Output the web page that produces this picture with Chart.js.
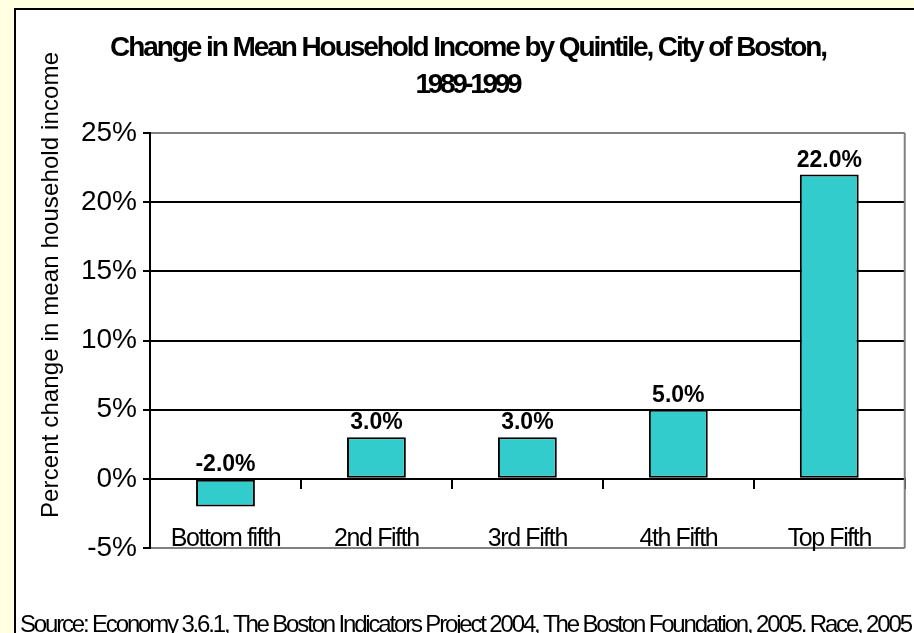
<!DOCTYPE html>
<html><head><meta charset="utf-8">
<script src="https://cdn.jsdelivr.net/npm/chart.js@4.4.1/dist/chart.umd.min.js"></script>
<style>html,body{margin:0;padding:0;background:#FFFFE1;} canvas{display:block;}</style>
</head><body>
<canvas id="c" width="914" height="633"></canvas>
<script>
// ---- data ----
const categories = ['Bottom fifth', '2nd Fifth', '3rd Fifth', '4th Fifth', 'Top Fifth'];
const changePct = [-2.0, 3.0, 3.0, 5.0, 22.0];
const yTicks = [-5, 0, 5, 10, 15, 20, 25];
const titleLines = ['Change in Mean Household Income by Quintile, City of Boston,', '1989-1999'];
const yAxisTitle = 'Percent change in mean household income';
const sourceText = 'Source: Economy 3.6.1, The Boston Indicators Project 2004, The Boston Foundation, 2005. Race, 2005';

const FONT = "'Liberation Sans', Arial, sans-serif";

// draw text squeezed/stretched to a given visible width, starting at x0
function fitText(ctx, text, x0, y, font, width) {
  ctx.save();
  ctx.font = font;
  ctx.letterSpacing = '0px';
  const w = ctx.measureText(text).width;
  const ls = (width - w) / (text.length - 1);
  ctx.letterSpacing = ls + 'px';
  ctx.textAlign = 'left';
  ctx.textBaseline = 'alphabetic';
  ctx.fillText(text, x0, y);
  ctx.restore();
}

const decorPlugin = {
  id: 'decor',
  beforeDraw(chart) {
    const ctx = chart.ctx;
    ctx.letterSpacing = '0px';
    ctx.save();
    ctx.fillStyle = '#FFFFE1';
    ctx.fillRect(0, 0, chart.width, chart.height);
    ctx.fillStyle = '#FFFFFF';
    ctx.fillRect(15, 9, 2000, 2000);
    ctx.strokeStyle = '#000000';
    ctx.lineWidth = 2;
    ctx.strokeRect(15, 9, 2000, 2000);
    ctx.restore();
    const xs = chart.scales.x;
    if (xs && !xs._lsWrapped) {
      const orig = xs.drawLabels;
      xs.drawLabels = function (area) {
        const c = this.ctx;
        c.save();
        c.letterSpacing = '-1.4px';
        orig.call(this, area);
        c.restore();
      };
      xs._lsWrapped = true;
    }
  },
  afterDatasetsDraw(chart) {
    const ctx = chart.ctx;
    const a = chart.chartArea;
    ctx.save();
    ctx.strokeStyle = '#808080';
    ctx.lineWidth = 2;
    ctx.beginPath();
    ctx.moveTo(a.right, a.top);
    ctx.lineTo(a.right, a.bottom);
    ctx.stroke();
    // value labels
    const meta = chart.getDatasetMeta(0);
    const ys = chart.scales.y;
    const zero = ys.getPixelForValue(0);
    ctx.font = 'bold 23px ' + FONT;
    ctx.fillStyle = '#000';
    ctx.textAlign = 'center';
    ctx.textBaseline = 'alphabetic';
    meta.data.forEach((bar, i) => {
      const v = changePct[i];
      const top = Math.min(ys.getPixelForValue(v), zero);
      ctx.fillText(v.toFixed(1) + '%', bar.x, top - 8);
    });
    ctx.restore();
  },
  afterDraw(chart) {
    const ctx = chart.ctx;
    ctx.save();
    ctx.fillStyle = '#000';
    fitText(ctx, titleLines[0], 469 - 359, 56, 'bold 28px ' + FONT, 718);
    fitText(ctx, titleLines[1], 469 - 53.5, 93, 'bold 28px ' + FONT, 107);
    fitText(ctx, sourceText, 20, 632, '24px ' + FONT, 893);
    ctx.save();
    ctx.translate(58, 285);
    ctx.rotate(-Math.PI / 2);
    fitText(ctx, yAxisTitle, -233, 0, '24px ' + FONT, 466);
    ctx.restore();
    ctx.restore();
  }
};

new Chart(document.getElementById('c'), {
  type: 'bar',
  data: {
    labels: categories,
    datasets: [{
      data: changePct,
      backgroundColor: '#33CCCC',
      borderColor: '#000000',
      borderWidth: 2,
      borderSkipped: false,
      barPercentage: 0.39,
      categoryPercentage: 1.0
    }]
  },
  options: {
    responsive: false,
    animation: false,
    devicePixelRatio: 1,
    layout: { padding: { top: 133, right: 8, bottom: 85, left: 0 } },
    plugins: { legend: { display: false }, tooltip: { enabled: false }, title: { display: false } },
    scales: {
      x: {
        position: { y: 0 },
        grid: { display: true, drawOnChartArea: false, drawTicks: true, tickLength: 9, color: '#000', lineWidth: 2, offset: true },
        border: { display: true, color: '#000', width: 2 },
        ticks: { font: { family: FONT, size: 25 }, color: '#000', padding: 36, maxRotation: 0 }
      },
      y: {
        min: -5, max: 25,
        afterBuildTicks: s => { s.ticks = yTicks.map(v => ({ value: v })); },
        afterFit: s => { s.width = 150; },
        grid: {
          color: c => (c.tick && (c.tick.value === 25 || c.tick.value === -5)) ? '#808080' : '#000000',
          lineWidth: 2, tickLength: 7, tickColor: '#000000', drawTicks: true
        },
        border: { display: true, color: '#000', width: 2 },
        ticks: { font: { family: FONT, size: 28 }, color: '#000', padding: 6, callback: v => v + '%' }
      }
    }
  },
  plugins: [decorPlugin]
});
</script>
</body></html>
